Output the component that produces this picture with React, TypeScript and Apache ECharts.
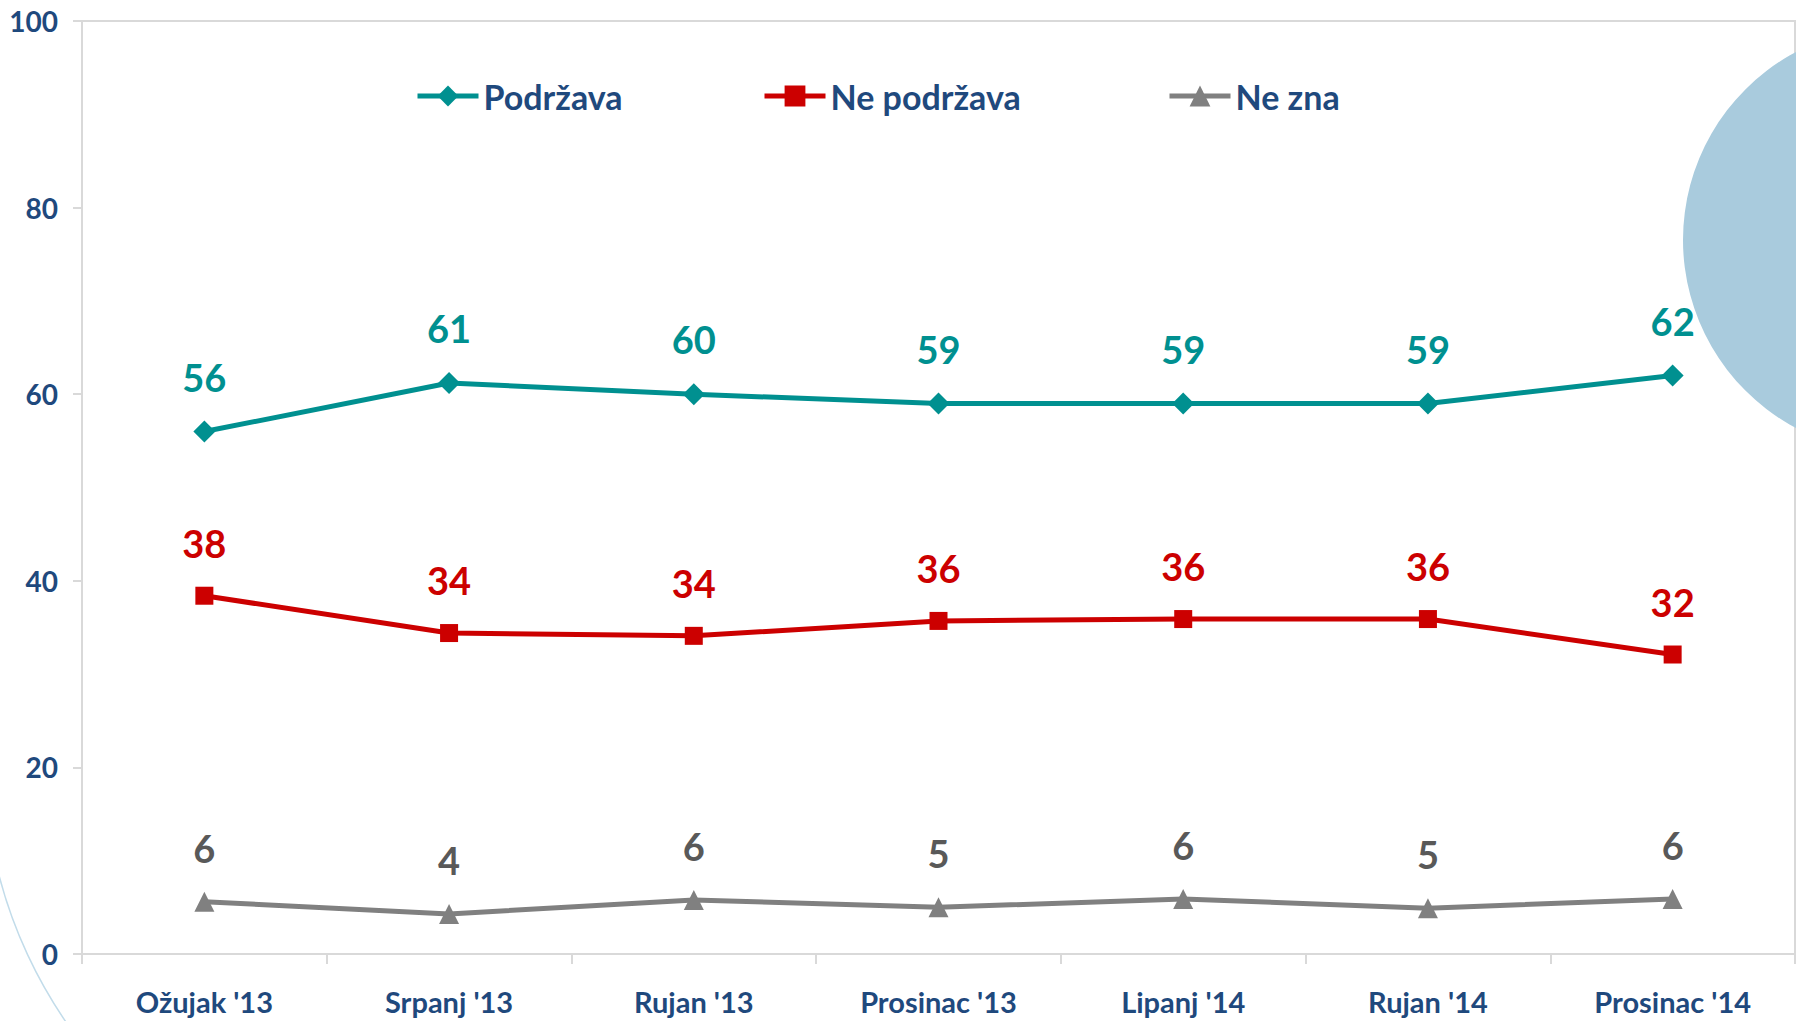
import React, { useEffect, useRef } from "react";
import * as echarts from "echarts";

const categories = ["Ožujak '13", "Srpanj '13", "Rujan '13", "Prosinac '13", "Lipanj '14", "Rujan '14", "Prosinac '14"];
const podrzava = [56, 61.2, 60, 59, 59, 59, 62];
const nePodrzava = [38.4, 34.4, 34.1, 35.7, 35.9, 35.9, 32.1];
const neZna = [5.6, 4.3, 5.8, 5.0, 5.9, 4.9, 5.9];
const seriesNames = ["Podržava", "Ne podržava", "Ne zna"];
const yTicks = { min: 0, max: 100, interval: 20 };

const FONT = "Lato, 'Open Sans', sans-serif";
const NAVY = "#1f497d";
const TEAL = "#009090";
const RED = "#cc0000";
const GRAY = "#808080";
const GRAY_LABEL = "#595959";

export default function App() {
  const ref = useRef<HTMLDivElement>(null);
  useEffect(() => {
    if (!ref.current) return;
    const chart = echarts.init(ref.current, undefined, { renderer: "svg" });
    const mkSeries = (name: string, data: number[], color: string, labelColor: string, symbol: string, size: number | number[]) => ({
      name,
      type: "line",
      data,
      symbol,
      symbolSize: size,
      lineStyle: { color, width: 5 },
      itemStyle: { color },
      label: {
        show: true,
        position: "top",
        distance: 25,
        formatter: (p: any) => String(Math.round(p.value)),
        color: labelColor,
        fontFamily: FONT,
        fontWeight: "bold",
        fontSize: 38,
      },
      z: 3,
    });
    const legendCommon = {
      itemWidth: 61,
      itemHeight: 26,
      itemGap: 8,
      padding: 0,
      top: 79,
      lineStyle: { width: 5 },
      textStyle: { color: NAVY, fontFamily: FONT, fontWeight: "bold", fontSize: 34 },
    };
    chart.setOption({
      animation: false,
      backgroundColor: "#ffffff",
      legend: [
        { ...legendCommon, data: [seriesNames[0]], left: 415 },
        { ...legendCommon, data: [seriesNames[1]], left: 762 },
        { ...legendCommon, data: [seriesNames[2]], left: 1167 },
      ],
      grid: {
        left: 82,
        right: 1,
        top: 21,
        bottom: 67,
        show: true,
        borderColor: "#d9d9d9",
        borderWidth: 2,
        backgroundColor: "transparent",
      },
      xAxis: {
        type: "category",
        data: categories,
        boundaryGap: true,
        axisLine: { show: true, lineStyle: { color: "#d9d9d9", width: 2 } },
        axisTick: { show: true, length: 10, lineStyle: { color: "#d9d9d9", width: 2 } },
        axisLabel: { color: NAVY, fontFamily: FONT, fontWeight: "bold", fontSize: 29, margin: 33 },
        splitLine: { show: false },
      },
      yAxis: {
        type: "value",
        min: yTicks.min,
        max: yTicks.max,
        interval: yTicks.interval,
        axisLine: { show: true, lineStyle: { color: "#d9d9d9", width: 2 } },
        axisTick: { show: true, length: 9, lineStyle: { color: "#d9d9d9", width: 2 } },
        axisLabel: { color: NAVY, fontFamily: FONT, fontWeight: "bold", fontSize: 28, margin: 24 },
        splitLine: { show: false },
      },
      graphic: [
        {
          type: "circle",
          shape: { cx: 1896, cy: 240, r: 213 },
          style: { fill: "#a9cbdd" },
          z: 1,
          silent: true,
        },
        {
          type: "arc",
          shape: { cx: 450, cy: 758, r: 466, startAngle: (138 * Math.PI) / 180, endAngle: (172 * Math.PI) / 180 },
          style: { stroke: "#c2dcea", lineWidth: 1.5, fill: "none" },
          z: 1,
          silent: true,
        },
      ],
      series: [
        mkSeries(seriesNames[0], podrzava, TEAL, TEAL, "diamond", 22),
        mkSeries(seriesNames[1], nePodrzava, RED, RED, "rect", 18),
        mkSeries(seriesNames[2], neZna, GRAY, GRAY_LABEL, "triangle", 20),
      ],
    });
    return () => chart.dispose();
  }, []);
  return <div ref={ref} style={{ position: "absolute", left: 0, top: 0, width: 1796, height: 1021 }} />;
}
